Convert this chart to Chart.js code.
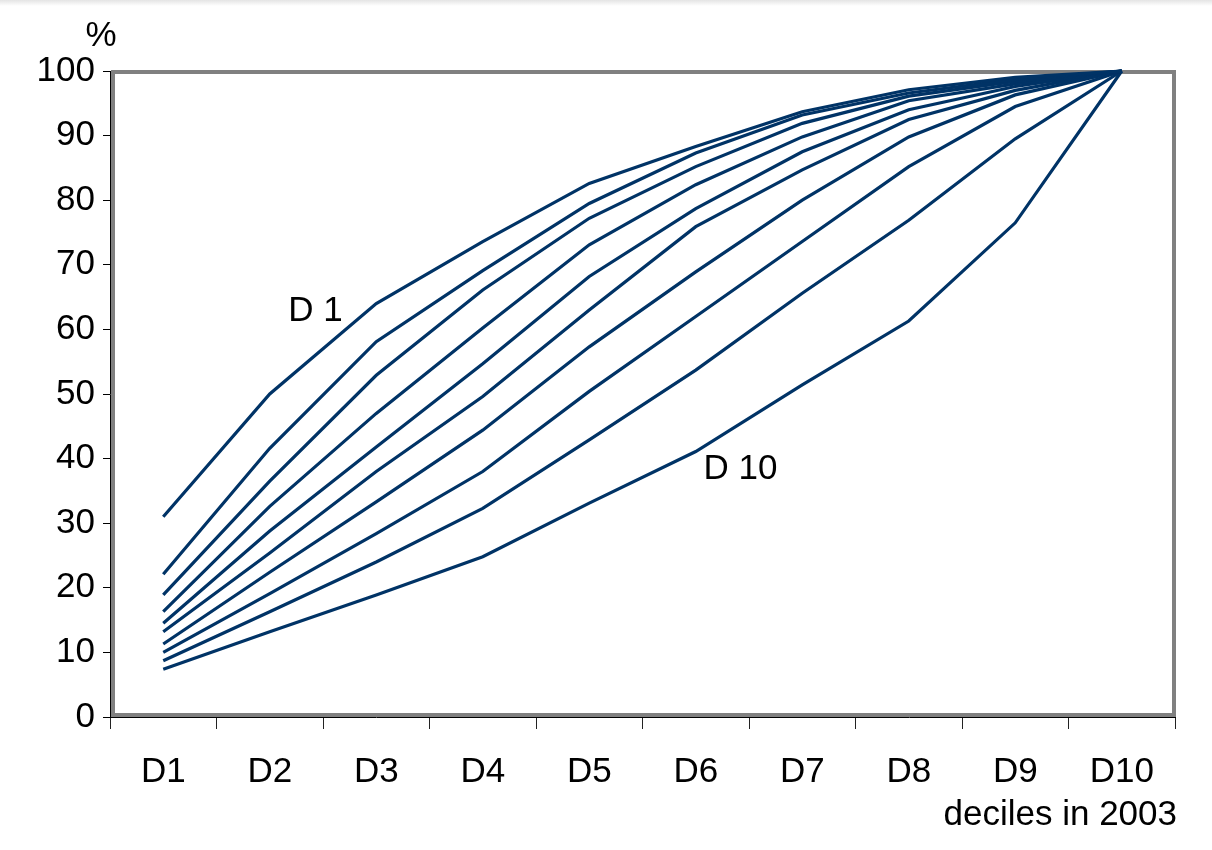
<!DOCTYPE html>
<html>
<head>
<meta charset="utf-8">
<script src="https://cdn.jsdelivr.net/npm/chart.js@4.4.1/dist/chart.umd.min.js"></script>
<style>
    html, body { margin: 0; padding: 0; background: #fff; }
    #wrap { width: 1212px; height: 850px; position: relative; }
    #topshade { position: absolute; left: 0; top: 0; width: 1212px; height: 6px;
                background: linear-gradient(#e4e4e4, #ffffff); }
</style>
</head>
<body>
<div id="wrap"><canvas id="deciles-chart"></canvas><div id="topshade"></div></div>
<script>
// deciles in 2003 (x axis)
const deciles = ['D1', 'D2', 'D3', 'D4', 'D5', 'D6', 'D7', 'D8', 'D9', 'D10'];

// cumulative share, %, one line per 2003 decile
const seriesD1  = [31.0, 50.0, 64.0, 73.6, 82.6, 88.3, 93.7, 97.1, 99.0, 100];
const seriesD2  = [22.1, 41.6, 58.1, 69.1, 79.5, 87.3, 93.2, 96.6, 98.7, 100];
const seriesD3  = [18.9, 36.5, 52.9, 66.1, 77.2, 85.2, 91.9, 96.1, 98.4, 100];
const seriesD4  = [16.3, 32.6, 47.0, 60.2, 73.1, 82.4, 89.8, 95.4, 98.0, 100];
const seriesD5  = [14.5, 28.8, 41.8, 54.7, 68.2, 78.7, 87.5, 94.0, 97.6, 100];
const seriesD6  = [13.2, 25.4, 38.0, 49.6, 63.0, 75.9, 84.7, 92.5, 97.0, 100];
const seriesD7  = [11.3, 22.4, 33.3, 44.4, 57.3, 68.9, 80.0, 89.8, 96.3, 100];
const seriesD8  = [10.0, 19.1, 28.4, 38.0, 50.4, 62.0, 73.6, 85.2, 94.5, 100];
const seriesD9  = [ 8.7, 16.3, 24.0, 32.3, 42.9, 53.7, 65.6, 76.9, 89.5, 100];
const seriesD10 = [ 7.4, 13.2, 18.9, 24.8, 33.1, 41.1, 51.4, 61.3, 76.5, 100];

const yMin = 0;
const yMax = 100;
const yStep = 10;

// line labels placed in data units: [text, x index, y value]
const lineLabels = [
    ['D 1', 1.43, 62.8],
    ['D 10', 5.42, 38.4]
];

const FONT = '"Liberation Sans", Arial, sans-serif';
const FONT_SIZE = 35;
const LINE_COLOR = '#003366';

const allSeries = [seriesD1, seriesD2, seriesD3, seriesD4, seriesD5,
                   seriesD6, seriesD7, seriesD8, seriesD9, seriesD10];

const frameAndText = {
    id: 'frameAndText',
    beforeDatasetsDraw(chart) {
        const { ctx, chartArea: a } = chart;
        ctx.save();
        ctx.strokeStyle = '#808080';
        ctx.lineWidth = 4;
        ctx.strokeRect(a.left + 3, a.top + 1, a.right - a.left - 4, a.bottom - a.top - 3);
        ctx.restore();
    },
    afterDraw(chart) {
        const { ctx, chartArea: a, scales } = chart;
        ctx.save();
        ctx.fillStyle = '#000';
        ctx.font = FONT_SIZE + 'px ' + FONT;
        ctx.textBaseline = 'middle';

        ctx.textAlign = 'center';
        lineLabels.forEach(([text, xi, yv]) => {
            ctx.fillText(text, scales.x.getPixelForValue(xi), scales.y.getPixelForValue(yv));
        });

        // unit above the y axis
        ctx.fillText('%', a.left - 9, a.top - 35);

        // x axis caption, right aligned
        ctx.textAlign = 'right';
        ctx.fillText('deciles in 2003', a.right + 2, a.bottom + 98);
        ctx.restore();
    }
};

const ctx = document.getElementById('deciles-chart').getContext('2d');
new Chart(ctx, {
    type: 'line',
    data: {
        labels: deciles,
        datasets: allSeries.map((s, i) => ({
            label: deciles[i],
            data: s,
            borderColor: LINE_COLOR,
            borderWidth: 3.2,
            pointRadius: 0,
            tension: 0,
            fill: false,
            clip: false
        }))
    },
    options: {
        responsive: true,
        maintainAspectRatio: false,
        animation: false,
        layout: { padding: { top: 71, right: 37, bottom: 0, left: 0 } },
        plugins: {
            legend: { display: false },
            tooltip: { enabled: false }
        },
        scales: {
            x: {
                offset: true,
                grid: {
                    offset: true,
                    drawOnChartArea: false,
                    drawTicks: true,
                    tickLength: 12,
                    color: '#222',
                    lineWidth: 1
                },
                border: { display: true, color: '#000', width: 1 },
                ticks: {
                    color: '#000',
                    font: { family: FONT, size: FONT_SIZE },
                    padding: 22,
                    maxRotation: 0,
                    autoSkip: false
                },
                afterFit(scale) { scale.height = 133; }
            },
            y: {
                min: yMin,
                max: yMax,
                grid: {
                    drawOnChartArea: false,
                    drawTicks: true,
                    tickLength: 7,
                    color: '#000',
                    lineWidth: 1
                },
                border: { display: true, color: '#000', width: 1 },
                ticks: {
                    stepSize: yStep,
                    color: '#000',
                    font: { family: FONT, size: FONT_SIZE },
                    padding: 8
                },
                afterFit(scale) { scale.width = 110; }
            }
        }
    },
    plugins: [frameAndText]
});
</script>
</body>
</html>
